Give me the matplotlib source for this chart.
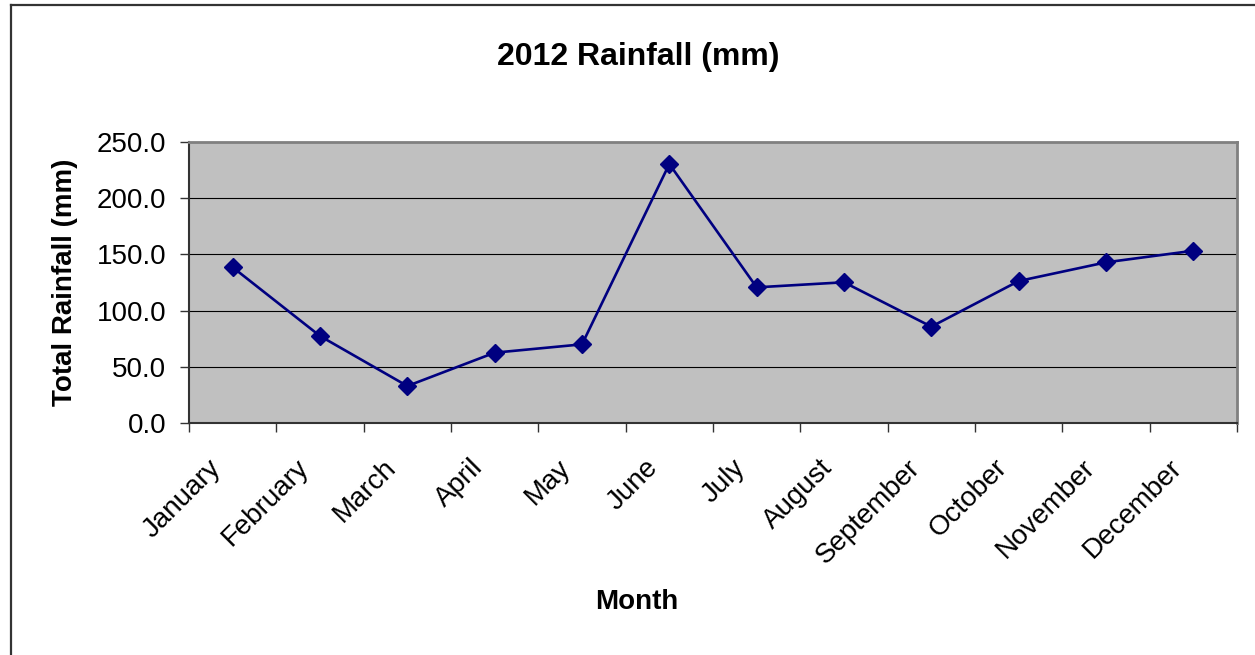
import matplotlib
matplotlib.use("Agg")
import matplotlib.pyplot as plt
from matplotlib.lines import Line2D
from matplotlib.transforms import ScaledTranslation

months = ["January", "February", "March", "April", "May", "June",
          "July", "August", "September", "October", "November", "December"]
rainfall = [138.5, 77.5, 33.1, 62.7, 70.1, 230.2,
            120.7, 125.2, 85.8, 126.3, 142.9, 153.2]
y_ticks = [0, 50, 100, 150, 200, 250]

plt.rcParams["font.family"] = ["Liberation Sans", "DejaVu Sans"]

W, H = 1255, 655
fig = plt.figure(figsize=(W / 100, H / 100), dpi=100)
fig.patch.set_facecolor("white")

# chart-area frame (only top and left edges fall inside the canvas)
fig.add_artist(Line2D([11 / W, 1.01], [1 - 4.5 / H, 1 - 4.5 / H],
                      transform=fig.transFigure, color="#333333", lw=1.6))
fig.add_artist(Line2D([11 / W, 11 / W], [1 - 4.5 / H, -0.01],
                      transform=fig.transFigure, color="#333333", lw=1.6))

left, right, top, bottom = 189, 1237, 141.7, 423.3
ax = fig.add_axes([left / W, 1 - bottom / H, (right - left) / W, (bottom - top) / H])
ax.set_facecolor("#C0C0C0")

x = list(range(len(months)))
ax.plot(x, rainfall, color="#000080", lw=1.9, marker="D", markersize=9.5,
        markerfacecolor="#000080", markeredgecolor="#000080", zorder=3)

ax.set_xlim(-0.5, len(months) - 0.5)
ax.set_ylim(0, 250)

ax.set_yticks(y_ticks)
ax.set_yticklabels([f"{v:.1f}" for v in y_ticks], fontsize=20)
for v in y_ticks[1:-1]:
    ax.axhline(v, color="black", lw=0.8, zorder=1)

ax.set_xticks(x)
ax.set_xticklabels(months, rotation=45, ha="right", va="top", fontsize=20)
ax.set_xticks([i - 0.5 for i in range(len(months) + 1)], minor=True)
ax.tick_params(axis="x", which="major", length=0, pad=22.5)
ax.tick_params(axis="x", which="minor", length=6.5, width=1, color="#333333")
ax.tick_params(axis="y", length=6.5, width=1, color="#333333", pad=10)
shift = ScaledTranslation(-6 / 100, 0, fig.dpi_scale_trans)
for lbl in ax.get_xticklabels():
    lbl.set_transform(lbl.get_transform() + shift)

for side in ("left", "bottom"):
    ax.spines[side].set_color("#333333")
    ax.spines[side].set_linewidth(1.5)
for side in ("top", "right"):
    ax.spines[side].set_color("#808080")
    ax.spines[side].set_linewidth(2)

fig.text(638 / W, 1 - 57 / H, "2012 Rainfall (mm)", ha="center", va="center",
         fontsize=23, fontweight="bold")
fig.text(637 / W, 1 - 602 / H, "Month", ha="center", va="center",
         fontsize=20, fontweight="bold")
fig.text(65 / W, 1 - 282.5 / H, "Total Rainfall (mm)", ha="center", va="center",
         rotation=90, fontsize=20, fontweight="bold")

fig.savefig("out.png", dpi=100)
